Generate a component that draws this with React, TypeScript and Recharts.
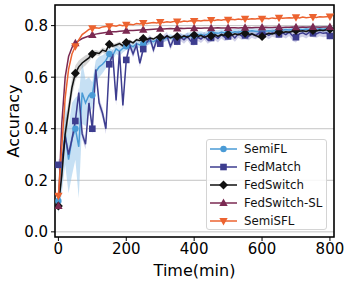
import React from 'react'
import { ComposedChart, Line, Area, XAxis, YAxis, CartesianGrid, ReferenceArea, Label } from 'recharts'

// minutes, one sample every 10 min (0..800)
const times = Array.from({ length: 81 }, (_, i) => i * 10)

const semiFL = [
  0.12, 0.25, 0.38, 0.28, 0.36, 0.40, 0.33, 0.54, 0.50, 0.53, 0.53,
  0.62, 0.64, 0.65, 0.665, 0.69, 0.685, 0.71, 0.70, 0.712, 0.72,
  0.725, 0.718, 0.73, 0.725, 0.73, 0.735, 0.74, 0.738, 0.745, 0.75,
  0.748, 0.752, 0.755, 0.75, 0.756, 0.758, 0.755, 0.76, 0.762, 0.76,
  0.764, 0.766, 0.762, 0.768, 0.77, 0.772, 0.77, 0.774, 0.772, 0.775,
  0.772, 0.776, 0.774, 0.778, 0.776, 0.778, 0.78, 0.778, 0.776, 0.777,
  0.778, 0.78, 0.778, 0.782, 0.784, 0.782, 0.785, 0.783, 0.786, 0.785,
  0.786, 0.784, 0.787, 0.785, 0.787, 0.786, 0.788, 0.786, 0.788, 0.787,
]
const semiFLSpread = [
  0.05, 0.1, 0.12, 0.13, 0.14, 0.12, 0.2, 0.12, 0.09, 0.07, 0.05,
  0.045, 0.04, 0.035, 0.03, 0.025, 0.02, 0.02, 0.018, 0.016, 0.015,
  0.015, 0.014, 0.014, 0.013, 0.013, 0.012, 0.012, 0.012, 0.012, 0.012,
  0.012, 0.012, 0.012, 0.012, 0.012, 0.012, 0.012, 0.012, 0.012, 0.012,
  0.012, 0.012, 0.012, 0.012, 0.012, 0.012, 0.012, 0.012, 0.012, 0.012,
  0.012, 0.012, 0.012, 0.012, 0.012, 0.012, 0.012, 0.012, 0.012, 0.012,
  0.012, 0.012, 0.012, 0.012, 0.012, 0.012, 0.012, 0.012, 0.012, 0.012,
  0.012, 0.012, 0.012, 0.012, 0.012, 0.012, 0.012, 0.012, 0.012, 0.012,
]
const fedMatch = [
  0.26, 0.27, 0.37, 0.30, 0.36, 0.43, 0.54, 0.38, 0.34, 0.50, 0.40,
  0.63, 0.50, 0.46, 0.40, 0.65, 0.69, 0.51, 0.70, 0.49, 0.667,
  0.725, 0.69, 0.725, 0.654, 0.709, 0.735, 0.75, 0.706, 0.745, 0.73,
  0.75, 0.76, 0.72, 0.748, 0.738, 0.755, 0.745, 0.758, 0.74, 0.738,
  0.755, 0.748, 0.76, 0.745, 0.752, 0.76, 0.75, 0.765, 0.755, 0.758,
  0.765, 0.752, 0.768, 0.76, 0.762, 0.758, 0.768, 0.762, 0.77, 0.765,
  0.77, 0.762, 0.772, 0.768, 0.766, 0.772, 0.765, 0.775, 0.76, 0.755,
  0.768, 0.772, 0.765, 0.775, 0.77, 0.768, 0.774, 0.77, 0.772, 0.76,
]
const fedMatchSpread = [
  0.02, 0.02, 0.02, 0.02, 0.02, 0.02, 0.02, 0.02, 0.02, 0.02, 0.02,
  0.02, 0.02, 0.02, 0.02, 0.02, 0.02, 0.02, 0.02, 0.02, 0.015,
  0.015, 0.015, 0.015, 0.015, 0.015, 0.015, 0.015, 0.015, 0.015, 0.015,
  0.015, 0.015, 0.015, 0.015, 0.015, 0.015, 0.015, 0.015, 0.015, 0.015,
  0.015, 0.015, 0.015, 0.015, 0.015, 0.015, 0.015, 0.015, 0.015, 0.015,
  0.015, 0.015, 0.015, 0.015, 0.015, 0.015, 0.015, 0.015, 0.015, 0.015,
  0.015, 0.015, 0.015, 0.015, 0.015, 0.015, 0.015, 0.015, 0.02, 0.02,
  0.015, 0.015, 0.015, 0.015, 0.015, 0.015, 0.015, 0.015, 0.015, 0.015,
]
const fedSwitch = [
  0.10, 0.22, 0.38, 0.47, 0.56, 0.615, 0.64, 0.655, 0.665, 0.675, 0.69,
  0.695, 0.692, 0.705, 0.70, 0.728, 0.72, 0.725, 0.73, 0.722, 0.735,
  0.74, 0.733, 0.745, 0.742, 0.75, 0.745, 0.752, 0.748, 0.756, 0.755,
  0.75, 0.76, 0.752, 0.758, 0.758, 0.752, 0.76, 0.755, 0.762, 0.764,
  0.757, 0.762, 0.754, 0.76, 0.76, 0.766, 0.758, 0.765, 0.762, 0.767,
  0.762, 0.768, 0.765, 0.77, 0.77, 0.764, 0.768, 0.762, 0.757, 0.758,
  0.765, 0.77, 0.768, 0.772, 0.775, 0.772, 0.776, 0.774, 0.778, 0.781,
  0.778, 0.78, 0.777, 0.782, 0.781, 0.779, 0.783, 0.781, 0.784, 0.786,
]
const fedSwitchSpread = [
  0.01, 0.04, 0.05, 0.04, 0.035, 0.03, 0.025, 0.02, 0.02, 0.015, 0.012,
  0.01, 0.01, 0.01, 0.01, 0.008, 0.008, 0.008, 0.008, 0.008, 0.008,
  0.006, 0.006, 0.006, 0.006, 0.006, 0.006, 0.006, 0.006, 0.006, 0.006,
  0.006, 0.006, 0.006, 0.006, 0.006, 0.006, 0.006, 0.006, 0.006, 0.006,
  0.006, 0.006, 0.006, 0.006, 0.006, 0.006, 0.006, 0.006, 0.006, 0.006,
  0.006, 0.006, 0.006, 0.006, 0.006, 0.006, 0.006, 0.006, 0.006, 0.006,
  0.006, 0.006, 0.006, 0.006, 0.006, 0.006, 0.006, 0.006, 0.006, 0.006,
  0.006, 0.006, 0.006, 0.006, 0.006, 0.006, 0.006, 0.006, 0.006, 0.006,
]
const fedSwitchSL = [
  0.10, 0.42, 0.60, 0.68, 0.715, 0.732, 0.742, 0.75, 0.755, 0.76, 0.764,
  0.767, 0.769, 0.771, 0.773, 0.775, 0.776, 0.776, 0.778, 0.779, 0.78,
  0.781, 0.781, 0.782, 0.783, 0.784, 0.784, 0.785, 0.786, 0.787, 0.788,
  0.787, 0.788, 0.789, 0.788, 0.789, 0.79, 0.789, 0.79, 0.79, 0.79,
  0.791, 0.79, 0.791, 0.791, 0.79, 0.791, 0.792, 0.791, 0.791, 0.791,
  0.792, 0.792, 0.791, 0.792, 0.792, 0.793, 0.792, 0.793, 0.793, 0.793,
  0.794, 0.793, 0.793, 0.794, 0.794, 0.793, 0.794, 0.794, 0.795, 0.794,
  0.794, 0.795, 0.794, 0.795, 0.795, 0.795, 0.794, 0.795, 0.795, 0.795,
]
const semiSFL = [
  0.14, 0.33, 0.52, 0.63, 0.69, 0.72, 0.745, 0.765, 0.775, 0.785, 0.79,
  0.792, 0.79, 0.795, 0.797, 0.798, 0.80, 0.798, 0.802, 0.80, 0.803,
  0.805, 0.803, 0.808, 0.806, 0.81, 0.808, 0.81, 0.812, 0.81, 0.814,
  0.812, 0.815, 0.813, 0.816, 0.816, 0.814, 0.818, 0.816, 0.819, 0.818,
  0.82, 0.818, 0.821, 0.82, 0.822, 0.82, 0.823, 0.821, 0.824, 0.823,
  0.825, 0.823, 0.826, 0.824, 0.827, 0.825, 0.827, 0.826, 0.828, 0.827,
  0.829, 0.827, 0.83, 0.828, 0.831, 0.829, 0.83, 0.831, 0.83, 0.832,
  0.83, 0.833, 0.831, 0.832, 0.833, 0.832, 0.834, 0.833, 0.834, 0.835,
]

const xTicks = [0, 200, 400, 600, 800]
const yTicks = [0, 0.2, 0.4, 0.6, 0.8]

const data = times.map((t, i) => ({
  t,
  semiFL: semiFL[i],
  fedMatch: fedMatch[i],
  fedSwitch: fedSwitch[i],
  fedSwitchSL: fedSwitchSL[i],
  semiSFL: semiSFL[i],
  semiFLBand: [semiFL[i] - semiFLSpread[i], semiFL[i] + semiFLSpread[i]],
  fedMatchBand: [fedMatch[i] - fedMatchSpread[i], fedMatch[i] + fedMatchSpread[i]],
  fedSwitchBand: [fedSwitch[i] - fedSwitchSpread[i], fedSwitch[i] + fedSwitchSpread[i]],
}))

type Shape = 'circle' | 'square' | 'diamond' | 'up' | 'down'

const series: { key: string; name: string; color: string; shape: Shape }[] = [
  { key: 'semiFL', name: 'SemiFL', color: '#4a9bd6', shape: 'circle' },
  { key: 'fedMatch', name: 'FedMatch', color: '#3d3d8f', shape: 'square' },
  { key: 'fedSwitch', name: 'FedSwitch', color: '#111111', shape: 'diamond' },
  { key: 'fedSwitchSL', name: 'FedSwitch-SL', color: '#7b2a52', shape: 'up' },
  { key: 'semiSFL', name: 'SemiSFL', color: '#ec6330', shape: 'down' },
]

function Marker({ shape, cx, cy, color }: { shape: Shape; cx: number; cy: number; color: string }) {
  if (shape === 'circle') return <circle cx={cx} cy={cy} r={3.2} fill={color} />
  if (shape === 'square') return <rect x={cx - 3.3} y={cy - 3.3} width={6.6} height={6.6} fill={color} />
  if (shape === 'diamond')
    return <polygon points={`${cx},${cy - 4.5} ${cx + 4.5},${cy} ${cx},${cy + 4.5} ${cx - 4.5},${cy}`} fill={color} />
  if (shape === 'up')
    return <polygon points={`${cx},${cy - 4.5} ${cx + 4.2},${cy + 3} ${cx - 4.2},${cy + 3}`} fill={color} />
  return <polygon points={`${cx},${cy + 4.5} ${cx + 4.2},${cy - 3} ${cx - 4.2},${cy - 3}`} fill={color} />
}

const dotFor = (shape: Shape, color: string) => (props: any) => {
  const { cx, cy, index } = props
  if (index % 5 !== 0 || cx == null || cy == null) return <g key={`d-${index}`} />
  return (
    <g key={`d-${index}`}>
      <Marker shape={shape} cx={cx} cy={cy} color={color} />
    </g>
  )
}

const font = 'DejaVu Sans'

function LegendBox() {
  return (
    <div
      style={{
        position: 'absolute',
        left: 206,
        top: 139,
        width: 121,
        height: 91,
        boxSizing: 'border-box',
        border: '1px solid #d4d4d4',
        borderRadius: 3,
        background: 'rgba(255,255,255,0.85)',
        fontFamily: font,
        fontSize: 11.8,
        color: '#111',
      }}
    >
      {series.map((s, i) => (
        <div key={s.key} style={{ position: 'absolute', left: 0, top: 9.3 + i * 17.9 - 9, height: 18, width: '100%' }}>
          <svg width={30} height={18} style={{ position: 'absolute', left: 2, top: 0 }}>
            <line x1={1} y1={9} x2={28} y2={9} stroke={s.color} strokeWidth={1.5} />
            <Marker shape={s.shape} cx={14.5} cy={9} color={s.color} />
          </svg>
          <span style={{ position: 'absolute', left: 37, top: 1, lineHeight: '16px' }}>{s.name}</span>
        </div>
      ))}
    </div>
  )
}

const YLabel = () => (
  <text
    transform="translate(13,121) rotate(-90)"
    textAnchor="middle"
    dominantBaseline="central"
    style={{ fill: '#000', fontSize: 16, fontFamily: font }}
  >
    Accuracy
  </text>
)

export default function App() {
  return (
    <div style={{ position: 'absolute', left: 0, top: 0, width: 351, height: 283, background: '#fff' }}>
      <ComposedChart
        width={351}
        height={283}
        data={data}
        margin={{ top: 5, right: 17, bottom: 0, left: 0 }}
        style={{ fontFamily: font }}
      >
        <CartesianGrid vertical={false} stroke="#c4c4c4" strokeWidth={1} />
        <XAxis
          type="number"
          dataKey="t"
          domain={[-10, 812]}
          ticks={xTicks}
          allowDataOverflow
          axisLine={false}
          tickLine={{ stroke: '#000', strokeWidth: 1 }}
          tickSize={4}
          tickMargin={2}
          height={46}
          tick={{ fill: '#000', fontSize: 15, fontFamily: font }}
        >
          <Label value="Time(min)" position="insideBottom" offset={7} style={{ fill: '#000', fontSize: 16, fontFamily: font }} />
        </XAxis>
        <YAxis
          type="number"
          domain={[-0.02, 0.88]}
          ticks={yTicks}
          allowDataOverflow
          axisLine={false}
          tickLine={{ stroke: '#000', strokeWidth: 1 }}
          tickSize={4}
          tickMargin={3}
          width={55}
          tickFormatter={(v: number) => v.toFixed(1)}
          tick={{ fill: '#000', fontSize: 15, fontFamily: font }}
        >
          <Label content={YLabel} />
        </YAxis>
        <Area dataKey="semiFLBand" stroke="none" fill="#8ec1ea" fillOpacity={0.5} isAnimationActive={false} activeDot={false} />
        <Area dataKey="fedMatchBand" stroke="none" fill="#8a8ac8" fillOpacity={0.4} isAnimationActive={false} activeDot={false} />
        <Area dataKey="fedSwitchBand" stroke="none" fill="#888888" fillOpacity={0.35} isAnimationActive={false} activeDot={false} />
        {series.map((s) => (
          <Line
            key={s.key}
            type="linear"
            dataKey={s.key}
            name={s.name}
            stroke={s.color}
            strokeWidth={1.5}
            dot={dotFor(s.shape, s.color)}
            activeDot={false}
            isAnimationActive={false}
          />
        ))}
        <ReferenceArea
          x1={-10}
          x2={812}
          y1={-0.02}
          y2={0.88}
          fill="none"
          fillOpacity={0}
          stroke="#000"
          strokeWidth={1.6}
          ifOverflow="visible"
        />
      </ComposedChart>
      <LegendBox />
    </div>
  )
}
